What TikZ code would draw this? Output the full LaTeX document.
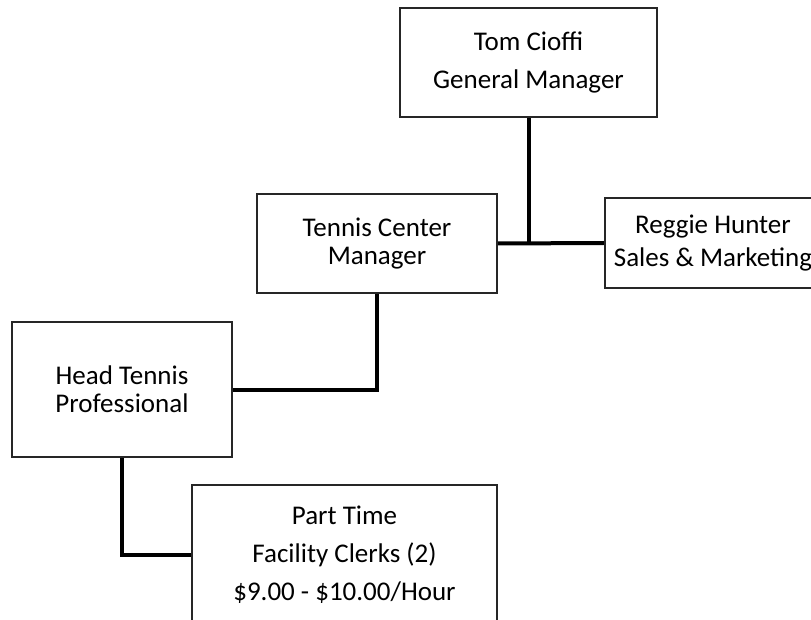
\documentclass[tikz,border=0pt]{standalone}
\usepackage{fontspec}
\setmainfont{Carlito}
\usetikzlibrary{positioning,calc}

\begin{document}
\begin{tikzpicture}[x=1pt, y=-1pt,
  font=\fontsize{27}{31}\selectfont,
  box/.style={draw=black!85, line width=2.4pt, fill=white, align=center, inner sep=0pt},
  link/.style={line width=4pt, black}]
\useasboundingbox (0,0) rectangle (811,620);
\clip (0,0) rectangle (811,620);
% top
\node[box, minimum width=257pt, minimum height=109pt] (gm) at (528.5,62.5) {Tom Cioffi\\[7pt] General Manager};
% middle row
\node[box, minimum width=240pt, minimum height=99pt] (tcm) at (377,243.5) {Tennis Center\\[-3pt] Manager};
\node[box, minimum width=216pt, minimum height=90pt] (sm) at (713,243) {Reggie Hunter\\[2pt] Sales \& Marketing};
% lower rows
\node[box, minimum width=220pt, minimum height=135pt] (htp) at (122,389.5) {Head Tennis\\[-3pt] Professional};
\node[box, minimum width=305pt, minimum height=140pt] (clk) at (344.5,555) {Part Time\\[7pt] Facility Clerks (2)\\[7pt] \$9.00 - \$10.00/Hour};
% lines
\draw[link] (gm.south) -- (gm.south |- sm.west);
\draw[link] (tcm.east) -- (sm.west);
\draw[link] (tcm.south) |- (htp.east);
\draw[link] (htp.south) |- (clk.west);
\end{tikzpicture}
\end{document}
